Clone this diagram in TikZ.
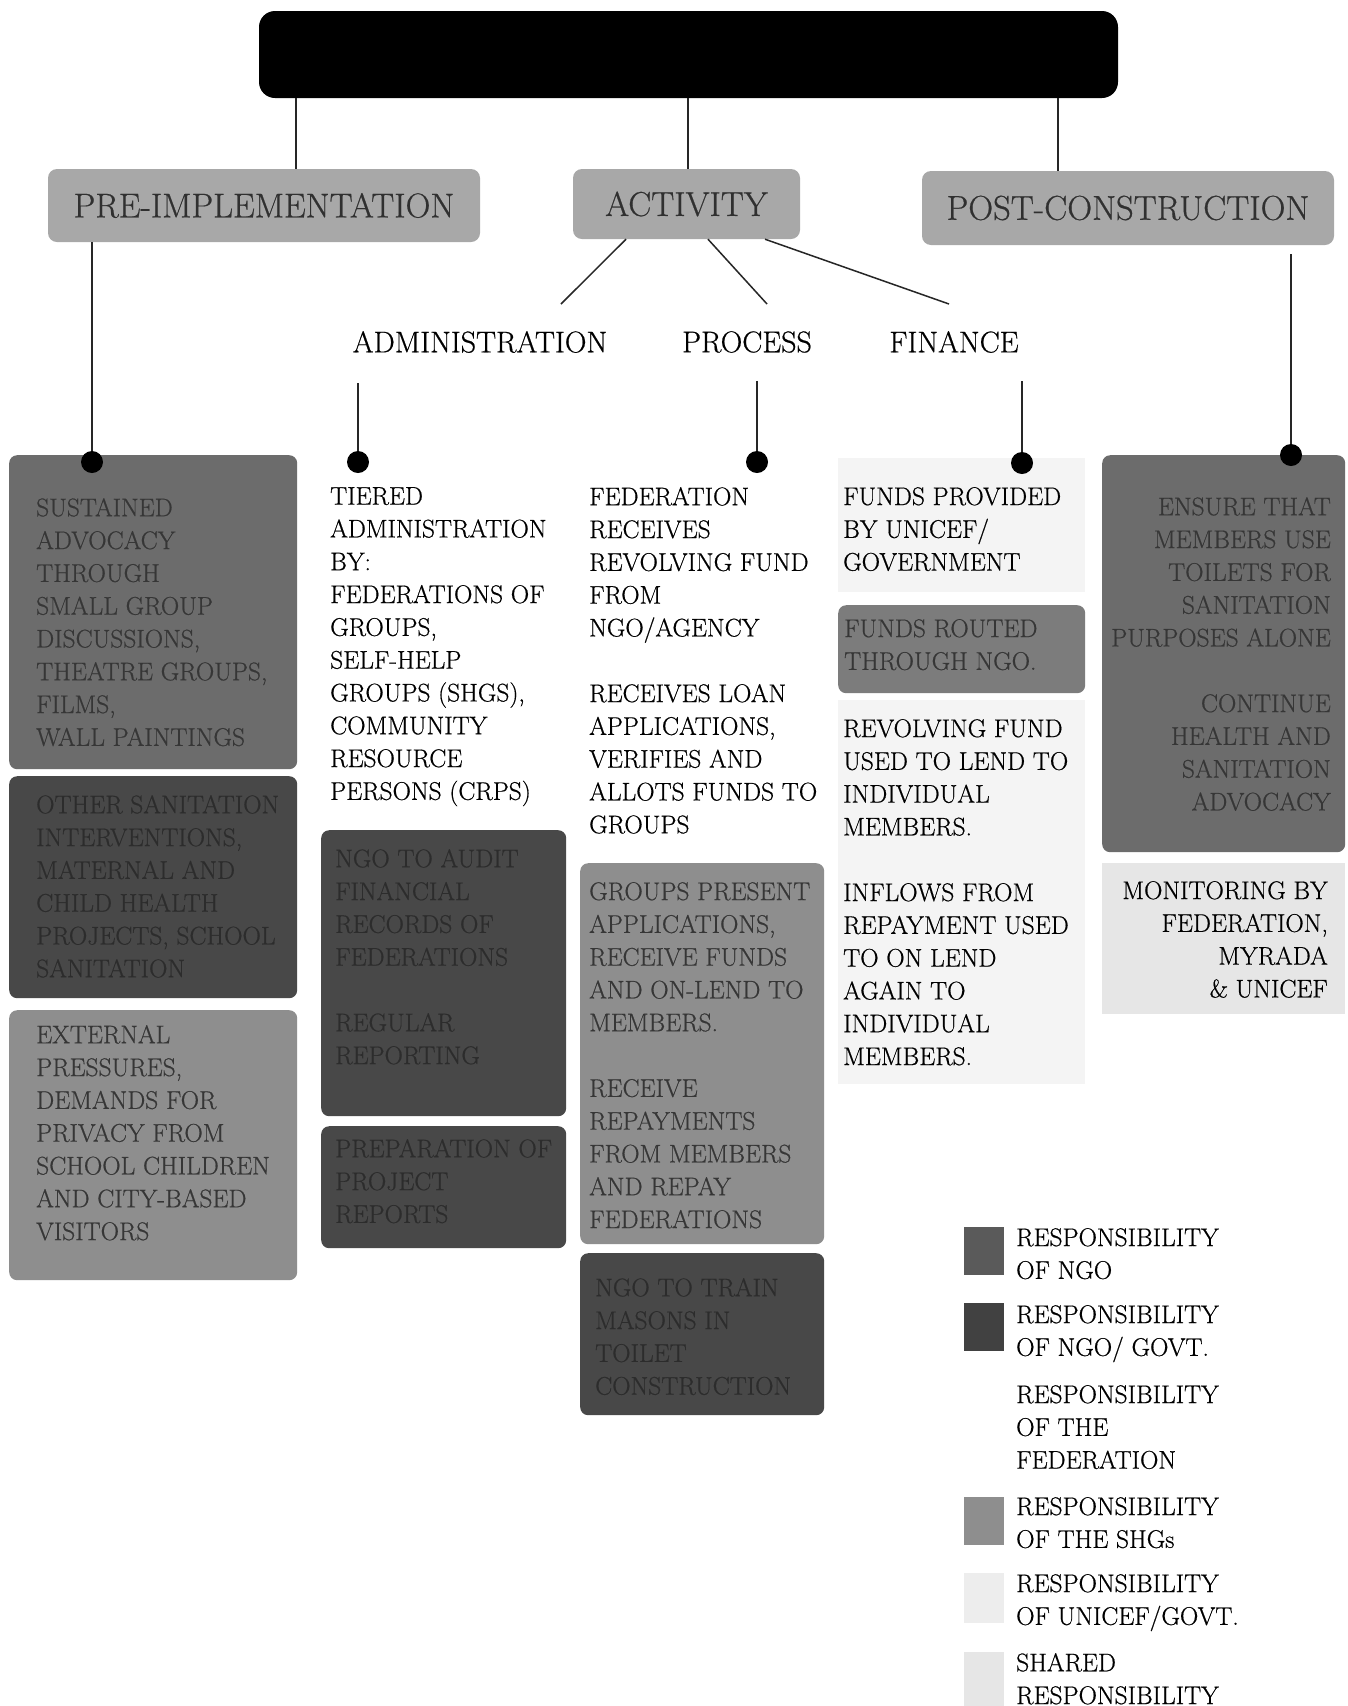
\documentclass[tikz,border=0pt]{standalone}
\usepackage{fontspec}
\setmainfont{Latin Modern Roman}[FakeBold=0.6]
\newcommand\myBody{\fontsize{25.5}{32.8}\selectfont}
\newcommand\myHead{\fontsize{34.5}{38}\selectfont}
\newcommand\mySub{\fontsize{30}{33}\selectfont}
\definecolor{hdr}{HTML}{A8A8A8}
\definecolor{hdrtext}{HTML}{303030}
\definecolor{ngo}{HTML}{6C6C6C}
\definecolor{ngogov}{HTML}{484848}
\definecolor{shg}{HTML}{8E8E8E}
\definecolor{fund}{HTML}{7C7C7C}
\definecolor{unicef}{HTML}{F4F4F4}
\definecolor{shared}{HTML}{E6E6E6}
\definecolor{darktext}{HTML}{363636}
\definecolor{deeptext}{HTML}{2C2C2C}
\definecolor{swngo}{HTML}{5A5A5A}
\definecolor{swngogov}{HTML}{414141}
\definecolor{swunicef}{HTML}{EDEDED}
\tikzset{
 rbox/.style={rounded corners=8pt, inner sep=0pt, anchor=north west},
 hdrbox/.style={fill=hdr, rounded corners=9pt, inner sep=0pt, font=\myHead, text=hdrtext},
 txt/.style={inner sep=0pt, anchor=north west, align=left, font=\myBody},
 rtxt/.style={inner sep=0pt, anchor=north east, align=right, font=\myBody},
 sublabel/.style={inner sep=0pt, font=\mySub},
 dot/.style={circle, fill=black, minimum size=22pt, inner sep=0pt},
 conn/.style={line width=1.5pt, draw=black!85},
 swatch/.style={inner sep=0pt, anchor=north west, minimum width=40pt}
}
\begin{document}
\begin{tikzpicture}[x=1pt,y=-1pt]
\useasboundingbox[fill=white] (0,0) rectangle (1348,1706);

% title and headers
\node[fill=black, rounded corners=16pt, inner sep=0pt, minimum width=859, minimum height=87] (title) at (688.5,54.5) {};
\node[hdrbox, minimum width=432, minimum height=73] (pre) at (264,205.5) {PRE-IMPLEMENTATION};
\node[hdrbox, minimum width=227, minimum height=70] (act) at (686.5,204) {ACTIVITY};
\node[hdrbox, minimum width=412, minimum height=74] (post) at (1128,208) {POST-CONSTRUCTION};

\coordinate (c1) at (296,0);
\coordinate (c2) at (688,0);
\coordinate (c3) at (1058,0);
\draw[conn] (title.south -| c1) -- (pre.north -| c1);
\draw[conn] (title.south -| c2) -- (act.north -| c2);
\draw[conn] (title.south -| c3) -- (post.north -| c3);

% sub labels
\node[sublabel] (adm) at (480,342) {ADMINISTRATION};
\node[sublabel] (proc) at (747,342) {PROCESS};
\node[sublabel] (fin) at (954,342) {FINANCE};
\coordinate (e1) at (561,304);
\coordinate (e2) at (767,304);
\coordinate (e3) at (949,304);
\draw[conn] ([xshift=-60.5pt]act.south) -- (e1);
\draw[conn] ([xshift=21.5pt]act.south) -- (e2);
\draw[conn] ([xshift=78.5pt]act.south) -- (e3);

% backgrounds (finance, monitoring)
\node[rbox, rounded corners=0pt, fill=unicef, minimum width=247, minimum height=134] (finbg) at (838,458) {};
\node[rbox, rounded corners=0pt, fill=unicef, minimum width=247, minimum height=384] (finbg2) at (838,700) {};
\node[rbox, rounded corners=0pt, fill=shared, minimum width=243, minimum height=151] (monbg) at (1102,863) {};

% boxes
\node[rbox, fill=ngo, minimum width=288, minimum height=314] (L1) at (9,455) {};
\node[rbox, fill=ngogov, minimum width=288, minimum height=222] (L2) at (9,776) {};
\node[rbox, fill=shg, minimum width=288, minimum height=270] (L3) at (9,1010) {};
\node[rbox, fill=ngogov, minimum width=245, minimum height=286] (A1) at (321,830) {};
\node[rbox, fill=ngogov, minimum width=245, minimum height=122] (A2) at (321,1126) {};
\node[rbox, fill=shg, minimum width=244, minimum height=381] (P1) at (580,863) {};
\node[rbox, fill=ngogov, minimum width=244, minimum height=162] (P2) at (580,1253) {};
\node[rbox, fill=fund, minimum width=247, minimum height=88] (F1) at (838,605) {};
\node[rbox, fill=ngo, minimum width=243, minimum height=397] (Po1) at (1102,455) {};

% dots and connectors
\node[dot] (d1) at (92,462) {};
\node[dot] (d2) at (358,462) {};
\node[dot] (d3) at (757,462) {};
\node[dot] (d4) at (1022,463) {};
\draw[conn] (pre.south -| d1) -- (d1);
\draw[conn] ([yshift=-30pt]adm.south -| d2) -- (d2);
\draw[conn] ([yshift=-28pt]proc.south -| d3) -- (d3);
\draw[conn] ([yshift=-28pt]fin.south -| d4) -- (d4);
\node[dot] (d5) at (1291,455) {};
\draw[conn] ([yshift=-9pt]post.south -| d5) -- (d5);

% texts in boxes
\node[txt, text=darktext] (L1t) at (36,498) {SUSTAINED\\ADVOCACY\\THROUGH\\SMALL GROUP\\DISCUSSIONS,\\THEATRE GROUPS,\\FILMS,\\WALL PAINTINGS};
\node[txt, text=deeptext] (L2t) at (36,795) {OTHER SANITATION\\INTERVENTIONS,\\MATERNAL AND\\CHILD HEALTH\\PROJECTS, SCHOOL\\SANITATION};
\node[txt, text=darktext] (L3t) at (36,1025) {EXTERNAL\\PRESSURES,\\DEMANDS FOR\\PRIVACY FROM\\SCHOOL CHILDREN\\AND CITY-BASED\\VISITORS};
\node[txt] (admt) at (330,487) {TIERED\\ADMINISTRATION\\BY:\\FEDERATIONS OF\\GROUPS,\\SELF-HELP\\GROUPS (SHGS),\\COMMUNITY\\RESOURCE\\PERSONS (CRPS)};
\node[txt, text=deeptext] (A1t) at (335,849) {NGO TO AUDIT\\FINANCIAL\\RECORDS OF\\FEDERATIONS\\[32.8pt]REGULAR\\REPORTING};
\node[txt, text=deeptext] (A2t) at (335,1139) {PREPARATION OF\\PROJECT\\REPORTS};
\node[txt] (proct) at (589,487) {FEDERATION\\RECEIVES\\REVOLVING FUND\\FROM\\NGO/AGENCY\\[32.8pt]RECEIVES LOAN\\APPLICATIONS,\\VERIFIES AND\\ALLOTS FUNDS TO\\GROUPS};
\node[txt, text=darktext] (P1t) at (589,882) {GROUPS PRESENT\\APPLICATIONS,\\RECEIVE FUNDS\\AND ON-LEND TO\\MEMBERS.\\[32.8pt]RECEIVE\\REPAYMENTS\\FROM MEMBERS\\AND REPAY\\FEDERATIONS};
\node[txt, text=deeptext] (P2t) at (595,1278) {NGO TO TRAIN\\MASONS IN\\TOILET\\CONSTRUCTION};
\node[txt] (fint) at (843,487) {FUNDS PROVIDED\\BY UNICEF/\\GOVERNMENT};
\node[txt, text=darktext] (F1t) at (844,619) {FUNDS ROUTED\\THROUGH NGO.};
\node[txt] (fint2) at (843,719) {REVOLVING FUND\\USED TO LEND TO\\INDIVIDUAL\\MEMBERS.\\[32.8pt]INFLOWS FROM\\REPAYMENT USED\\TO ON LEND\\AGAIN TO\\INDIVIDUAL\\MEMBERS.};
\node[rtxt, text=darktext] (Po1t) at (1331,497) {ENSURE THAT\\MEMBERS USE\\TOILETS FOR\\SANITATION\\PURPOSES ALONE\\[32.8pt]CONTINUE\\HEALTH AND\\SANITATION\\ADVOCACY};
\node[rtxt] (mont) at (1328,881) {MONITORING BY\\FEDERATION,\\MYRADA\\\& UNICEF};

% legend
\node[swatch, fill=swngo, minimum height=48] (sw1) at (964,1227) {};
\node[swatch, fill=swngogov, minimum height=48] (sw2) at (964,1303) {};
\node[swatch, fill=shg, minimum height=48] (sw4) at (964,1497) {};
\node[swatch, fill=swunicef, minimum height=50] (sw5) at (964,1573) {};
\node[swatch, fill=shared, minimum height=54] (sw6) at (964,1652) {};
\node[txt] (lg1) at (1016,1228) {RESPONSIBILITY\\OF NGO};
\node[txt] (lg2) at (1016,1305) {RESPONSIBILITY\\OF NGO/ GOVT.};
\node[txt] (lg3) at (1016,1385) {RESPONSIBILITY\\OF THE\\FEDERATION};
\node[txt] (lg4) at (1016,1497) {RESPONSIBILITY\\OF THE SHGs};
\node[txt] (lg5) at (1016,1574) {RESPONSIBILITY\\OF UNICEF/GOVT.};
\node[txt] (lg6) at (1016,1653) {SHARED\\RESPONSIBILITY};
\end{tikzpicture}
\end{document}
